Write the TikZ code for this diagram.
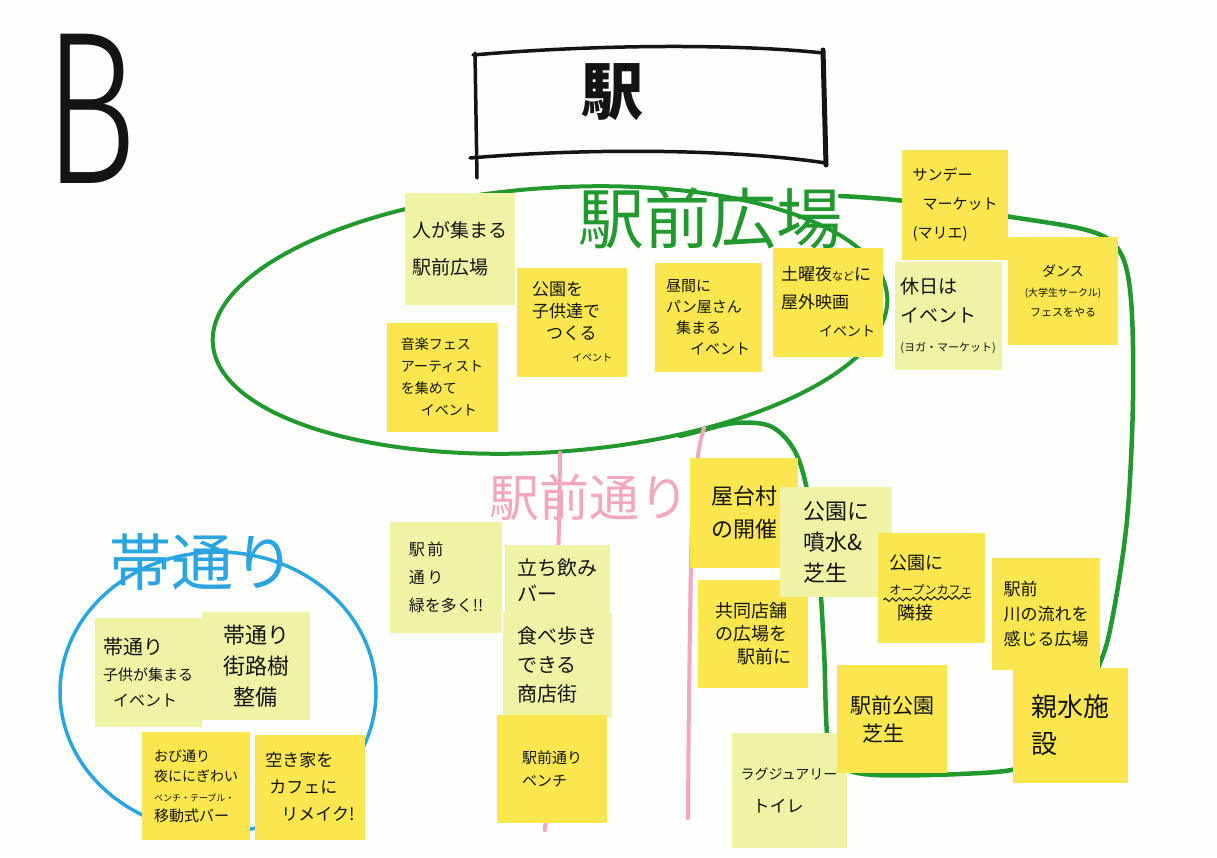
\documentclass[tikz,border=0pt]{standalone}
\usepackage{fontspec}
\newfontfamily\jp{Noto Sans CJK JP}
\newfontfamily\bfontB{Fira Sans Light}
\usetikzlibrary{decorations.pathmorphing}
\definecolor{bg}{HTML}{FEFEFC}
\definecolor{noteY}{HTML}{FAE74F}
\definecolor{noteL}{HTML}{EFF3A6}
\definecolor{mgreen}{HTML}{22992E}
\definecolor{mpink}{HTML}{F2A7BC}
\definecolor{mblue}{HTML}{2BA5E0}
\definecolor{ink}{HTML}{141414}
\newcommand{\fsz}[2]{\fontsize{#1}{#2}\selectfont}
\begin{document}
\begin{tikzpicture}[x=1pt,y=-1pt,
  notebase/.style={inner sep=0pt, align=left, text=ink},
  yel/.style={notebase, fill=noteY},
  lgt/.style={notebase, fill=noteL},
  greenline/.style={draw=mgreen, line width=4.5pt, line cap=round, line join=round},
  pinkline/.style={draw=mpink, line width=4pt, line cap=round},
  blueline/.style={draw=mblue, line width=3.5pt},
  boxline/.style={draw=ink, line width=3.5pt, line cap=round},
  biglabel/.style={inner sep=0pt}
]
\path[fill=bg] (0,0) rectangle (1217,857);

% green areas
\draw[greenline, line width=4pt, rotate around={4:(550,320)}] (550,320) ellipse [x radius=338, y radius=132];
\draw[greenline] plot[smooth, tension=0.55] coordinates {(840,196) (905,201) (1005,216) (1090,231) (1120,252) (1131,300) (1133,400) (1127,520) (1112,620) (1098,668) (1060,745) (1020,768) (960,774) (875,775) (843,767) (828,742) (824,650) (818,560) (806,485) (793,448) (770,426) (735,423) (700,431) (680,436)};

% labels
\node[biglabel, text=mpink, font=\jp\fsz{50}{50}, anchor=west] (lblDori) at (489,497) {駅前通り};
\node[biglabel, text=mblue, font=\jp\fsz{62}{62}] (lblObi) at (202,562) {帯通り};
\node[biglabel, text=mgreen, font=\jp\fsz{66}{66}] (lblHiroba) at (710,218) {駅前広場};

% pink street lines
\draw[pinkline] plot[smooth] coordinates {(560,453) (557,600) (545,830)};
\draw[pinkline] plot[smooth] coordinates {(704,428) (698,455) (692,520) (689,700) (688,818)};

% blue circle
\draw[blueline] (218,692) ellipse [x radius=158, y radius=140];

% title and station box
\node[inner sep=0pt, text=ink, font=\bfontB\fsz{218}{218}] (title) at (90,109) {\scalebox{0.72}[1]{B}};
\draw[boxline] (473,55) .. controls (600,44) and (740,44) .. (823,53);
\draw[boxline] (475,53) -- (477,178);
\draw[boxline] (470,158) .. controls (600,147) and (740,150) .. (826,163);
\draw[boxline, line width=5pt] (823,50) -- (826,165);
\node[inner sep=0pt, text=ink, font=\jp\bfseries\fsz{62}{62}] (eki) at (612,92) {駅};

% notes: 駅前広場
\node[lgt, minimum width=110, minimum height=112, font=\jp\fsz{19}{37}] (n1) at (460,249) {人が集まる\\駅前広場};
\node[yel, minimum width=110, minimum height=109, font=\jp\fsz{17}{22}] (n2) at (572,322) {公園を\\子供達で\\\hspace{14pt}つくる\\\hspace{40pt}{\fsz{10}{16}イベント}};
\node[yel, minimum width=111, minimum height=109, font=\jp\fsz{14}{22}] (n3) at (442,377) {音楽フェス\\アーティスト\\を集めて\\\hspace{20pt}イベント};
\node[yel, minimum width=107, minimum height=109, font=\jp\fsz{15}{21}] (n4) at (708,317) {昼間に\\パン屋さん\\\hspace{10pt}集まる\\\hspace{24pt}イベント};
\node[yel, minimum width=110, minimum height=109, font=\jp\fsz{17}{28}] (n5) at (828,302) {土曜夜{\fsz{11}{28}など}に\\屋外映画\\\hspace{38pt}{\fsz{14}{26}イベント}};
\node[yel, minimum width=106, minimum height=110, font=\jp\fsz{15}{29}] (n6) at (955,205) {サンデー\\\hspace{10pt}マーケット\\(マリエ)};
\node[lgt, minimum width=107, minimum height=108, font=\jp\fsz{19}{29}] (n7) at (948,316) {休日は\\イベント\\{\fsz{11}{29}(ヨガ・マーケット)}};
\node[yel, minimum width=110, minimum height=108, align=center, font=\jp\fsz{14}{20}] (n8) at (1063,291) {ダンス\\{\fsz{10}{20}(大学生サークル)}\\{\fsz{11}{20}フェスをやる}};

% notes: 駅前通り
\node[lgt, minimum width=112, minimum height=111, font=\jp\fsz{16}{28}] (n9) at (446,577) {駅\,前\\通\,り\\緑を多く!!};
\node[lgt, minimum width=105, minimum height=70, font=\jp\fsz{20}{26}] (n10) at (557,580) {立ち飲み\\バー};
\node[lgt, minimum width=109, minimum height=104, font=\jp\fsz{20}{29}] (n11) at (557,665) {食べ歩き\\できる\\商店街};
\node[yel, minimum width=110, minimum height=108, font=\jp\fsz{15}{23}] (n12) at (552,769) {駅前通り\\ベンチ};
\node[yel, minimum width=108, minimum height=110, font=\jp\fsz{22}{33}] (n13) at (744,513) {屋台村\\の開催};
\node[yel, minimum width=110, minimum height=108, font=\jp\fsz{18}{23}] (n15) at (753,634) {共同店舗\\の広場を\\\hspace{22pt}駅前に};
\node[lgt, minimum width=112, minimum height=110, font=\jp\fsz{22}{31}] (n14) at (836,542) {公園に\\噴水\&\\芝生};
\node[yel, minimum width=107, minimum height=110, font=\jp\fsz{18}{25}] (n16) at (931,588) {公園に\\{\fsz{12}{25}オープンカフェ}\\\hspace{8pt}隣接};
\draw[draw=ink, line width=1pt, decorate, decoration={snake, amplitude=1.6pt, segment length=7pt}] (n16.west) ++(6,12) -- ++(88,-3);
\node[yel, minimum width=108, minimum height=112, font=\jp\fsz{17}{25}] (n17) at (1046,614) {駅前\\川の流れを\\感じる広場};
\node[lgt, minimum width=115, minimum height=115, font=\jp\fsz{14}{33}] (n20) at (789,790) {ラグジュアリー\\\hspace{12pt}{\fsz{17}{33}トイレ}};
\node[yel, minimum width=110, minimum height=108, font=\jp\fsz{21}{28}] (n18) at (892,719) {駅前公園\\\hspace{12pt}芝生};
\node[yel, minimum width=115, minimum height=115, font=\jp\fsz{26}{37}] (n19) at (1070,725) {親水施\\設};

% notes: 帯通り
\node[lgt, minimum width=107, minimum height=109, font=\jp\fsz{20}{26}] (n21) at (148,672) {帯通り\\{\fsz{15}{26}子供が集まる}\\\hspace{10pt}{\fsz{16}{26}イベント}};
\node[lgt, minimum width=108, minimum height=108, font=\jp\fsz{22}{31}] (n22) at (256,666) {帯通り\\街路樹\\\hspace{10pt}整備};
\node[yel, minimum width=108, minimum height=108, font=\jp\fsz{14}{20}] (n23) at (196,786) {おび通り\\夜ににぎわい\\{\fsz{9}{18}ベンチ・テーブル・}\\{\fsz{15}{20}移動式バー}};
\node[yel, minimum width=110, minimum height=105, font=\jp\fsz{17}{27}] (n24) at (310,787) {空き家を\\\hspace{4pt}カフェに\\\hspace{16pt}リメイク!};
\end{tikzpicture}
\end{document}
